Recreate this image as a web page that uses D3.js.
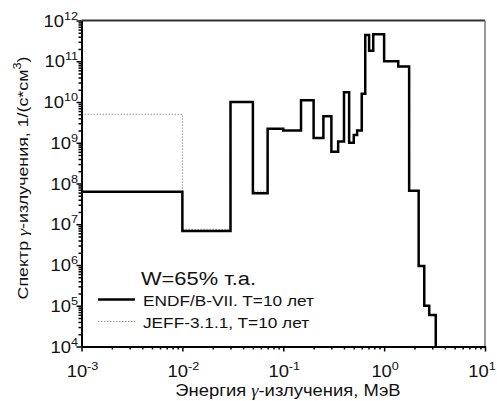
<!DOCTYPE html>
<html>
<head>
<meta charset="utf-8">
<script src="https://cdn.jsdelivr.net/npm/d3@7"></script>
<style>
  body { margin: 0; background: #fff; }
  svg { display: block; font-family: "Liberation Sans", Arial, sans-serif; }
</style>
</head>
<body>
<div id="chart"></div>
<script>
// bin edges, MeV
const edges = [0.001, 0.01, 0.03, 0.05, 0.07, 0.1, 0.15, 0.2, 0.25, 0.3, 0.35, 0.4, 0.45,
  0.5, 0.54, 0.6, 0.65, 0.71, 0.78, 1.0, 1.38, 1.77, 2.2, 2.5, 2.8, 3.25];
// ENDF/B-VII spectrum per bin
const endfValues = [6.3e7, 6.8e6, 1e10, 5.8e7, 2.2e9, 2.0e9, 1.1e10, 1.3e9, 4.5e9, 6e8, 1.07e9,
  1.74e10, 1e9, 1.55e9, 2.0e9, 1.6e10, 4.4e11, 1.8e11, 4.6e11, 1e11, 7.4e10, 6.6e7, 9.5e5, 1e5, 5.9e4];
// JEFF-3.1.1 spectrum per bin
const jeffValues = [5e9, 7.5e6, 1e10, 6.5e7, 2.2e9, 2.0e9, 1.1e10, 1.3e9, 4.5e9, 6e8, 1.07e9,
  1.74e10, 1e9, 1.55e9, 2.0e9, 1.6e10, 4.4e11, 1.8e11, 4.6e11, 1e11, 7.4e10, 6.6e7, 9.5e5, 1e5, 5.9e4];

const xTicks = [-3, -2, -1, 0, 1];
const yTicks = [4, 5, 6, 7, 8, 9, 10, 11, 12];
const legendTitle = "W=65% т.а.";
const legendLabels = ["ENDF/B-VII. T=10 лет", "JEFF-3.1.1, T=10 лет"];

const width = 497, height = 401;
const plot = { left: 81.5, right: 485, top: 20.5, bottom: 346.5 };
const stretch = 1.15;

const svg = d3.select("#chart").append("svg")
  .attr("width", width)
  .attr("height", height);

const x = d3.scaleLog().domain([1e-3, 10]).range([plot.left, plot.right]);
const y = d3.scaleLog().domain([1e4, 1e12]).range([plot.bottom, plot.top]);

const minor = (lo, hi) => {
  const out = [];
  for (let e = lo; e < hi; e++) for (let m = 2; m <= 9; m++) out.push(m * Math.pow(10, e));
  return out;
};

// frame top / right
svg.append("line")
  .attr("x1", plot.left).attr("x2", plot.right).attr("y1", plot.top).attr("y2", plot.top)
  .attr("stroke", "#333").attr("stroke-width", 2);
svg.append("line")
  .attr("x1", plot.right).attr("x2", plot.right).attr("y1", plot.top).attr("y2", plot.bottom)
  .attr("stroke", "#777").attr("stroke-width", 1.5);

// step curves
const stepPoints = vals => {
  const pts = vals.map((v, i) => [edges[i], v]);
  pts.push([edges[edges.length - 1], vals[vals.length - 1]]);
  pts.push([edges[edges.length - 1], 1e4]);
  return pts;
};
const line = d3.line()
  .x(d => x(d[0]))
  .y(d => y(d[1]))
  .curve(d3.curveStepAfter);

svg.append("path")
  .datum(stepPoints(jeffValues))
  .attr("d", line)
  .attr("fill", "none")
  .attr("stroke", "#999")
  .attr("stroke-width", 1)
  .attr("stroke-dasharray", "1.5,1.5");

svg.append("path")
  .datum(stepPoints(endfValues))
  .attr("d", line)
  .attr("fill", "none")
  .attr("stroke", "#000")
  .attr("stroke-width", 2.5)
  .attr("stroke-linejoin", "miter");

// axes
const styleAxis = g => {
  g.selectAll("text").remove();
  g.selectAll("line").attr("stroke", "#000").attr("stroke-width", 1.5);
  g.select(".domain").attr("stroke", "#000").attr("stroke-width", 2);
};

svg.append("g")
  .attr("transform", `translate(${plot.left},0)`)
  .call(d3.axisLeft(y).tickValues(minor(4, 12)).tickSize(3).tickSizeOuter(0))
  .call(styleAxis);
svg.append("g")
  .attr("transform", `translate(${plot.left},0)`)
  .call(d3.axisLeft(y).tickValues(yTicks.map(e => Math.pow(10, e))).tickSize(5).tickSizeOuter(0))
  .call(styleAxis);

svg.append("g")
  .attr("transform", `translate(0,${plot.bottom})`)
  .call(d3.axisBottom(x).tickValues(minor(-3, 1)).tickSize(3).tickSizeOuter(0))
  .call(styleAxis);
svg.append("g")
  .attr("transform", `translate(0,${plot.bottom})`)
  .call(d3.axisBottom(x).tickValues(xTicks.map(e => Math.pow(10, e))).tickSize(5).tickSizeOuter(0))
  .call(styleAxis);

// tick labels
const powLabel = (t, e) => {
  t.append("tspan").attr("font-size", 16).text("10");
  t.append("tspan").attr("font-size", 11).attr("dy", -7).text(e);
};

yTicks.forEach(e => {
  const t = svg.append("text")
    .attr("transform", `translate(78,${y(Math.pow(10, e)) + 6}) scale(${stretch},1)`)
    .attr("text-anchor", "end")
    .attr("fill", "#111");
  powLabel(t, e);
});

xTicks.forEach(e => {
  const t = svg.append("text")
    .attr("transform", `translate(${Math.min(x(Math.pow(10, e)) + 1, 482)},377) scale(${stretch},1)`)
    .attr("text-anchor", "middle")
    .attr("fill", "#111");
  powLabel(t, e);
});

// axis titles
const xTitle = svg.append("text")
  .attr("transform", `translate(288,396) scale(${stretch},1)`)
  .attr("text-anchor", "middle")
  .attr("font-size", 16)
  .attr("fill", "#111");
xTitle.append("tspan").text("Энергия ");
xTitle.append("tspan").attr("font-family", "Liberation Serif").attr("font-style", "italic").text("γ");
xTitle.append("tspan").text("-излучения, МэВ");

const yTitle = svg.append("text")
  .attr("transform", `translate(28,178) rotate(-90) scale(${stretch},1)`)
  .attr("text-anchor", "middle")
  .attr("font-size", 15.5)
  .attr("fill", "#111");
yTitle.append("tspan").text("Спектр ");
yTitle.append("tspan").attr("font-family", "Liberation Serif").attr("font-style", "italic").text("γ");
yTitle.append("tspan").text("-излучения, 1/(с*см");
yTitle.append("tspan").attr("font-size", 11).attr("dy", -7).text("3");
yTitle.append("tspan").attr("dy", 7).text(")");

// legend
svg.append("text")
  .attr("transform", `translate(141,285) scale(${stretch},1)`)
  .attr("font-size", 19)
  .attr("fill", "#111")
  .text(legendTitle);

const legendStyles = [
  { stroke: "#000", width: 2.5, dash: null },
  { stroke: "#999", width: 1, dash: "1.5,1.5" }
];
legendLabels.forEach((label, i) => {
  const ly = 299.5 + i * 22;
  svg.append("line")
    .attr("x1", 98).attr("x2", 135).attr("y1", ly).attr("y2", ly)
    .attr("stroke", legendStyles[i].stroke)
    .attr("stroke-width", legendStyles[i].width)
    .attr("stroke-dasharray", legendStyles[i].dash);
  svg.append("text")
    .attr("transform", `translate(143,${ly + 6}) scale(${stretch},1)`)
    .attr("font-size", 15)
    .attr("fill", "#111")
    .text(label);
});
</script>
</body>
</html>
